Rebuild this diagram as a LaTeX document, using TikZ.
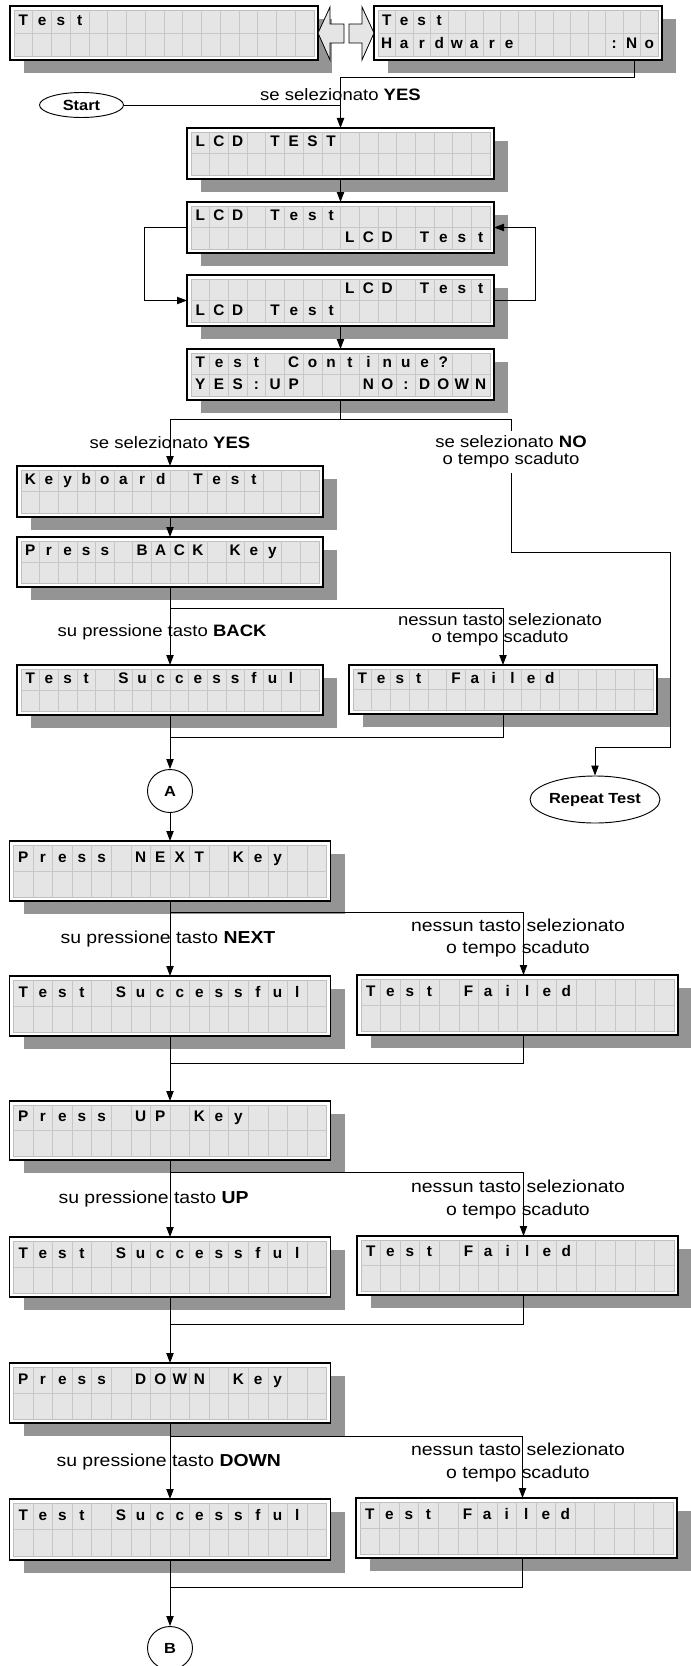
\documentclass[tikz,border=0pt]{standalone}
\usepackage{fontspec}
\usetikzlibrary{arrows.meta,shapes.geometric}
\newfontfamily\lcdfont{Liberation Sans}
\newfontfamily\notefont[FakeStretch=1.12]{Liberation Sans}

% one LCD display: name, left, top, width, height, first line, second line
\newcommand{\lcd}[7]{%
  \fill[lcdshadow] (#2+14,#3+13) rectangle ++(#4,#5);
  \node[lcdframe, minimum width=#4*0.75pt, minimum height=#5*0.75pt] (#1) at (#2+#4/2,#3+#5/2) {};
  \filldraw[lcdscreen] (#2+4,#3+4) rectangle (#2+#4-4,#3+#5-4);
  \foreach \nc in {1,...,15}
    \draw[lcdgrid] ({#2+4+\nc*(#4-8)/16},#3+4) -- ++(0,#5-8);
  \draw[lcdgrid] (#2+4,#3+#5/2) -- ++(#4-8,0);
  \foreach \cha [count=\nc] in {#6}
    \node[lcdchar] at ({#2+4+(\nc-0.5)*(#4-8)/16},{#3+4+(#5-8)/4}) {\cha};
  \foreach \cha [count=\nc] in {#7}
    \node[lcdchar] at ({#2+4+(\nc-0.5)*(#4-8)/16},{#3+4+3*(#5-8)/4}) {\cha};
}

\begin{document}
\begin{tikzpicture}[x=0.75pt,y=-0.75pt,
  lcdshadow/.style={fill=black!42},
  lcdframe/.style={draw, fill=white, line width=0.8pt, inner sep=0pt, outer sep=0pt},
  lcdscreen/.style={fill=black!10, draw=black!25, line width=0.4pt},
  lcdgrid/.style={draw=black!22, line width=0.4pt},
  lcdchar/.style={font=\lcdfont\bfseries\fontsize{11.5}{13}\selectfont, inner sep=0pt, text height=8.3pt, text depth=2pt},
  link/.style={line width=0.7pt},
  arr/.style={link, -{Triangle[length=7.5pt,width=5.5pt]}},
  note/.style={font=\notefont\fontsize{13}{16.7}\selectfont, align=center, inner sep=1pt},
  upnote/.style={font=\notefont\fontsize{12.4}{12.6}\selectfont, align=center, inner sep=1pt},
  term/.style={draw, ellipse, line width=0.7pt, inner sep=0pt, font=\notefont\bfseries\fontsize{11}{13}\selectfont},
  blockarrow/.style={draw, fill=black!10, line width=0.6pt, line join=miter}]
\useasboundingbox (0,0) rectangle (690,1666);

% displays
\lcd{tst}{10}{6}{308}{54}{T,e,s,t}{}
\lcd{hw}{374}{6}{288}{54}{T,e,s,t}{H,a,r,d,w,a,r,e,,,,,,:,N,o}
\lcd{lcdtest}{187}{128}{307}{51}{L,C,D,,T,E,S,T}{}
\lcd{scrollA}{187}{202}{307}{51}{L,C,D,,T,e,s,t}{,,,,,,,,L,C,D,,T,e,s,t}
\lcd{scrollB}{187}{275}{307}{51}{,,,,,,,,L,C,D,,T,e,s,t}{L,C,D,,T,e,s,t}
\lcd{cont}{187}{349}{307}{51}{T,e,s,t,,C,o,n,t,i,n,u,e,?}{Y,E,S,:,U,P,,,,N,O,:,D,O,W,N}
\lcd{kbd}{17}{466}{306}{51}{K,e,y,b,o,a,r,d,,T,e,s,t}{}
\lcd{back}{17}{537}{306}{50}{P,r,e,s,s,,B,A,C,K,,K,e,y}{}
\lcd{okback}{17}{665}{306}{50}{T,e,s,t,,S,u,c,c,e,s,s,f,u,l}{}
\lcd{failback}{349}{665}{308}{49}{T,e,s,t,,F,a,i,l,e,d}{}
\lcd{next}{9.5}{841}{321}{60}{P,r,e,s,s,,N,E,X,T,,K,e,y}{}
\lcd{oknext}{9.5}{976}{321}{60}{T,e,s,t,,S,u,c,c,e,s,s,f,u,l}{}
\lcd{failnext}{357}{975}{321}{60}{T,e,s,t,,F,a,i,l,e,d}{}
\lcd{up}{9.5}{1101}{321}{59}{P,r,e,s,s,,U,P,,K,e,y}{}
\lcd{okup}{9.5}{1237}{321}{60}{T,e,s,t,,S,u,c,c,e,s,s,f,u,l}{}
\lcd{failup}{357}{1236}{321}{59}{T,e,s,t,,F,a,i,l,e,d}{}
\lcd{down}{9.5}{1363}{321}{60}{P,r,e,s,s,,D,O,W,N,,K,e,y}{}
\lcd{okdown}{9.5}{1499}{321}{61}{T,e,s,t,,S,u,c,c,e,s,s,f,u,l}{}
\lcd{faildown}{356}{1498}{321}{60}{T,e,s,t,,F,a,i,l,e,d}{}

% terminals
\node[term, minimum width=63pt, minimum height=18.75pt] (start) at (81.5,105) {Start};
\node[term, minimum width=75.75pt, minimum height=35.25pt] (rpt) at (595,799.5) {Repeat Test};
\node[term, minimum width=33.75pt, minimum height=32.25pt] (A) at (170,791) {A};
\node[term, minimum width=33.75pt, minimum height=32.25pt] (B) at (170,1648) {B};

% menu switch
\draw[blockarrow] (tst.east) -- ++(12,-26) -- ++(0,17) -- ++(14,0) -- ++(0,19) -- ++(-14,0) -- ++(0,17) -- cycle;
\draw[blockarrow] (hw.west) -- ++(-12,-26) -- ++(0,17) -- ++(-13,0) -- ++(0,19) -- ++(13,0) -- ++(0,17) -- cycle;

% labels
\node[upnote] (yestop) at (340.5,95) {se selezionato \textbf{YES}};
\node[upnote] (yeslbl) at (170,443) {se selezionato \textbf{YES}};
\node[upnote, fill=white, inner sep=3.5pt] (nolbl) at (511,452) {se selezionato \textbf{NO}\\o tempo scaduto};
\node[upnote, anchor=west] (backlbl) at (56,632) {su pressione tasto \textbf{BACK}};
\node[upnote] (backfail) at (500,630) {nessun tasto selezionato\\o tempo scaduto};
\node[note, anchor=west] (nextlbl) at (59,939) {su pressione tasto \textbf{NEXT}};
\node[note] (nextfail) at (518,938) {nessun tasto selezionato\\o tempo scaduto};
\node[note, anchor=west] (uplbl) at (57,1199) {su pressione tasto \textbf{UP}};
\node[note] (upfail) at (518,1199.5) {nessun tasto selezionato\\o tempo scaduto};
\node[note, anchor=west] (downlbl) at (55,1462) {su pressione tasto \textbf{DOWN}};
\node[note] (downfail) at (518,1462.5) {nessun tasto selezionato\\o tempo scaduto};

% lcd test
\coordinate (hwout) at (634,60);
\draw[arr] (hwout) -- ++(0,17) -| (lcdtest.north);
\draw[link] (start) -- (start -| lcdtest);
\draw[arr] (lcdtest) -- (scrollA);
\draw[arr] (scrollA.west) -- ++(-43,0) |- (scrollB.west);
\draw[arr] (scrollB.east) -- ++(41,0) |- (scrollA.east);
\draw[arr] (scrollB) -- (cont);

% keyboard test
\coordinate (c1) at (340.5,419);
\coordinate (r1) at (670,552);
\coordinate (r2) at (670,747);
\draw[link] (cont) -- (c1);
\draw[arr] (c1) -| (kbd.north);
\draw[link] (c1) -| (nolbl.north);
\draw[arr] (nolbl.south) |- (r1) -- (r2) -| (rpt.north);
\draw[arr] (kbd) -- (back);

% back key
\coordinate (s1) at (170,608);
\coordinate (j1) at (170,737);
\draw[link] (back) -- (s1);
\draw[arr] (s1) -- (okback);
\draw[arr] (s1) -| (failback.north);
\draw[link] (failback.south) |- (j1);
\draw[arr] (okback) -- (A);
\draw[arr] (A) -- (next);

% next key
\coordinate (s2) at (170,912);
\coordinate (j2) at (170,1063);
\draw[link] (next) -- (s2);
\draw[arr] (s2) -- (oknext);
\draw[arr] (s2) -| ([xshift=4.5pt]failnext.north);
\draw[link] ([xshift=4.5pt]failnext.south) |- (j2);
\draw[arr] (oknext) -- (up);

% up key
\coordinate (s3) at (170,1172);
\coordinate (j3) at (170,1324);
\draw[link] (up) -- (s3);
\draw[arr] (s3) -- (okup);
\draw[arr] (s3) -| ([xshift=4.5pt]failup.north);
\draw[link] ([xshift=4.5pt]failup.south) |- (j3);
\draw[arr] (okup) -- (down);

% down key
\coordinate (s4) at (170,1436);
\coordinate (j4) at (170,1587);
\draw[link] (down) -- (s4);
\draw[arr] (s4) -- (okdown);
\draw[arr] (s4) -| ([xshift=4.5pt]faildown.north);
\draw[link] ([xshift=4.5pt]faildown.south) |- (j4);
\draw[arr] (okdown) -- (B);
\end{tikzpicture}
\end{document}
